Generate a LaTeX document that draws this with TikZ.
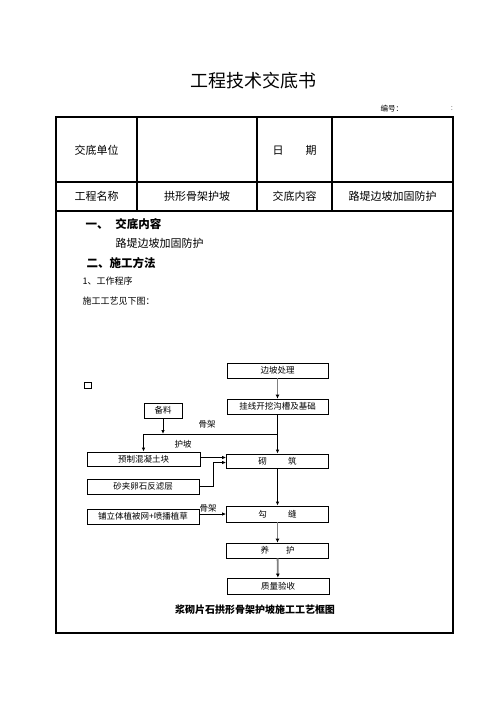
\documentclass[tikz,border=0pt]{standalone}
\usepackage{fontspec}
\setmainfont{Noto Sans CJK SC}
\usetikzlibrary{arrows.meta}
\begin{document}
\begin{tikzpicture}[x=1pt,y=-1pt,
    box/.style={draw,thick,inner sep=0pt,font=\fontsize{8.5}{9}\selectfont},
    arr/.style={-{Latex[length=4pt,width=3.5pt]},thick},
    grayarr/.style={arr,draw=gray,line width=1.8pt,-{Latex[length=4pt,width=4pt,color=black]}},
    lbl/.style={font=\fontsize{8.5}{9}\selectfont,inner sep=0pt},
    rule/.style={line width=1.1pt}]
    \useasboundingbox (0,0) rectangle (496,702);

        \node (title) at (253,81) {\fontsize{18}{20}\selectfont 工程技术交底书};
        \node[font=\fontsize{7.5}{8}\selectfont,anchor=west] (num) at (377,109) {编号：};
        \node[font=\fontsize{7.5}{8}\selectfont,text=gray] (colon) at (452,109) {:};

        \draw[rule] (56,117) rectangle (453,633);
        \draw[rule] (56,182) -- (453,182);
        \draw[rule] (56,211) -- (453,211);
        \draw[rule] (137,117) -- (137,211) (257,117) -- (257,211) (332,117) -- (332,211);

        \node[font=\fontsize{11}{12}\selectfont] (unit) at (96.5,150) {交底单位};
        \node[font=\fontsize{11}{12}\selectfont] (date) at (294.5,150) {日\hspace{2em}期};
        \node[font=\fontsize{11}{12}\selectfont] (proj) at (96.5,196.5) {工程名称};
        \node[font=\fontsize{11}{12}\selectfont] (projname) at (197,196.5) {拱形骨架护坡};
        \node[font=\fontsize{11}{12}\selectfont] (cont) at (294.5,196.5) {交底内容};
        \node[font=\fontsize{11}{12}\selectfont] (contname) at (392.5,196.5) {路堤边坡加固防护};

        \node[font=\bfseries\fontsize{11.5}{12}\selectfont,anchor=west] (sec1) at (82,224) {一、\hspace{0.6em}交底内容};
        \node[font=\fontsize{11}{12}\selectfont,anchor=west] (sec1txt) at (112,243) {路堤边坡加固防护};
        \node[font=\bfseries\fontsize{11.5}{12}\selectfont,anchor=west] (sec2) at (83,263) {二、施工方法};
        \node[font=\fontsize{9}{10}\selectfont,anchor=west] (step) at (79,281) {1、工作程序};
        \node[font=\fontsize{9}{10}\selectfont,anchor=west] (seefig) at (79,301) {施工工艺见下图：};

        \draw[thick] (84,382) rectangle (91,388);

        \node[box,minimum width=101pt,minimum height=15pt] (slope) at (277.5,370.5) {边坡处理};
        \node[box,minimum width=101pt,minimum height=15pt] (ditch) at (277.5,406.5) {挂线开挖沟槽及基础};
        \node[box,minimum width=38pt,minimum height=15pt] (prep) at (163,410.5) {备料};
        \node[box,minimum width=113pt,minimum height=14pt] (block) at (143.5,459) {预制混凝土块};
        \node[box,minimum width=102pt,minimum height=14pt] (build) at (277.5,461) {砌\hspace{2.5em}筑};
        \node[box,minimum width=112pt,minimum height=15pt] (filter) at (143,486.5) {砂夹卵石反滤层};
        \node[box,minimum width=102pt,minimum height=16pt] (joint) at (277.5,514) {勾\hspace{2.5em}缝};
        \node[box,minimum width=112pt,minimum height=15pt] (net) at (143,516.5) {铺立体植被网+喷播植草};
        \node[box,minimum width=102pt,minimum height=15pt] (cure) at (277.5,550.5) {养\hspace{2em}护};
        \node[box,minimum width=102pt,minimum height=16pt] (check) at (278,586) {质量验收};

        \node[lbl] (frame1) at (207,424) {骨架};
        \node[lbl] (slope1) at (183,444) {护坡};
        \node[lbl] (frame2) at (208,508) {骨架};

        \coordinate (jn) at (277.5,434);
        \coordinate (fk) at (213,462.5);

        \draw[grayarr] (slope) -- (ditch);
        \draw[arr] (ditch) -- (build);
        \draw[arr] (prep) -- (prep |- jn);
        \draw[arr] (jn) -| (block);
        \draw[arr] ([yshift=1.5pt]block.east) -- ([yshift=1.5pt]block.east -| build.west);
        \draw[arr] (filter.east) -| (fk) -- (fk -| build.west);
        \draw[arr] (build) -- (joint);
        \draw[arr] (net.east |- joint) -- (joint.west);
        \draw[grayarr] (joint) -- (cure);
        \draw[grayarr] (cure) -- (check);

        \node[font=\bfseries\fontsize{10}{11}\selectfont] (caption) at (255,610) {浆砌片石拱形骨架护坡施工工艺框图};
\end{tikzpicture}
\end{document}
